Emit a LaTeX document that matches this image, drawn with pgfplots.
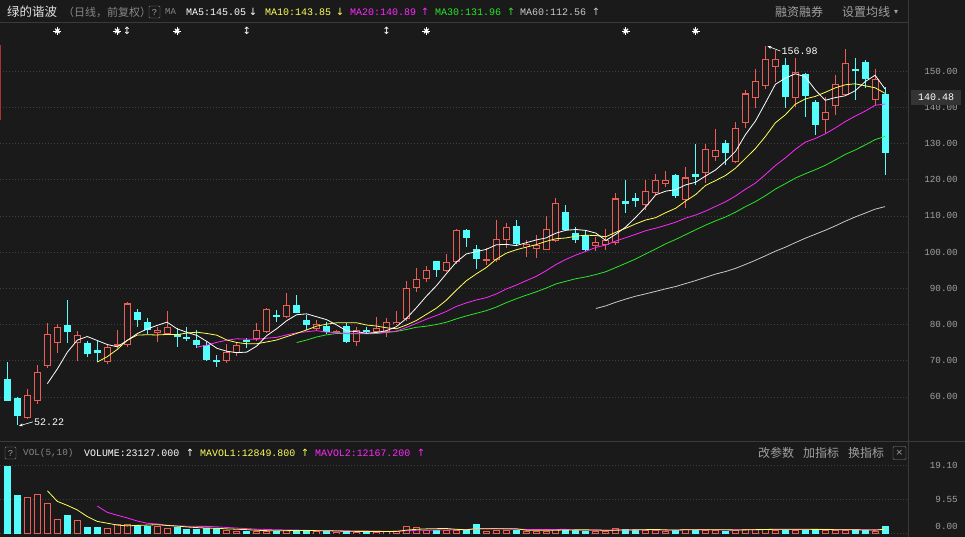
\documentclass[border=0pt]{standalone}
\usepackage{fontspec}
\setmainfont{Liberation Sans}
\newfontfamily\cjk{Noto Sans CJK SC}
\newfontfamily\mono{Liberation Mono}
\newfontfamily\sym{DejaVu Sans}
\usepackage{pgfplots}
\usepackage{pgfplotstable}
\pgfplotsset{compat=1.18}
\usetikzlibrary{arrows.meta}

\definecolor{bg}{RGB}{26,26,26}
\definecolor{upc}{RGB}{238,92,86}
\definecolor{dnc}{RGB}{84,252,252}
\definecolor{ma5c}{RGB}{255,255,255}
\definecolor{ma10c}{RGB}{255,255,90}
\definecolor{ma20c}{RGB}{255,40,255}
\definecolor{ma30c}{RGB}{40,230,40}
\definecolor{ma60c}{RGB}{200,200,200}
\definecolor{gridc}{RGB}{62,62,62}
\definecolor{labc}{RGB}{160,160,160}
\definecolor{sepc}{RGB}{58,58,58}
\definecolor{hdrc}{RGB}{225,225,225}
\definecolor{dimc}{RGB}{135,135,135}
\definecolor{tagc}{RGB}{52,52,52}
\definecolor{edgec}{RGB}{170,50,50}

% up candles: i lo(open) hi(close) low high
\pgfplotstableread{
i lo hi l h
2 54.2 60.4 54.0 62.2
3 58.8 66.8 58.0 68.7
4 68.5 77.5 68.1 80.3
5 74.8 79.2 72.0 80.0
7 74.8 77.1 69.9 78.3
10 69.7 73.7 69.1 74.3
11 74.1 74.6 73.5 78.6
12 74.3 85.8 73.8 86.1
15 77.7 78.6 75.1 79.4
16 77.3 79.2 77.1 83.7
22 69.9 72.5 69.5 74.5
23 72.0 74.3 71.4 75.2
25 75.9 78.6 75.4 80.5
26 78.0 84.2 77.7 84.6
28 82.0 85.4 81.7 88.6
31 78.8 80.2 78.2 81.3
33 77.6 78.1 77.3 78.6
35 75.2 78.6 74.0 79.4
37 78.0 79.1 77.7 82.0
38 78.0 80.6 76.6 81.9
39 80.1 80.7 79.8 83.8
40 81.4 90.0 81.0 92.1
41 90.0 92.7 89.0 95.5
42 92.5 95.0 91.8 96.2
44 94.8 97.3 94.5 99.6
45 97.3 106.1 96.8 106.4
48 97.6 98.1 96.4 101.2
49 97.8 103.6 97.3 108.8
50 103.3 106.8 101.0 107.9
52 101.3 102.2 98.7 103.3
53 100.8 101.9 98.4 104.7
54 100.7 106.4 100.5 110.0
55 103.0 113.5 102.8 114.8
59 101.7 102.7 100.3 104.2
60 101.9 103.3 100.6 106.5
61 102.4 114.8 102.0 116.2
64 113.0 117.0 111.6 119.9
65 116.4 119.9 115.7 121.5
66 118.8 119.9 118.0 122.4
68 114.4 120.6 112.1 123.6
70 121.9 128.6 119.0 129.8
71 126.3 128.2 125.2 133.9
73 124.9 134.2 124.5 136.0
74 135.7 143.8 134.4 144.9
75 142.5 147.3 139.7 150.7
76 145.9 153.2 145.0 156.98
77 151.0 153.2 147.0 155.8
79 142.5 149.8 140.1 153.5
82 136.5 138.8 132.8 142.9
83 140.4 146.4 137.8 148.9
84 143.4 152.3 143.0 156.0
87 142.0 147.7 140.6 150.7
}\uptab

% down candles: i lo(close) hi(open) low high
\pgfplotstableread{
i lo hi l h
0 58.9 65.0 58.9 69.7
1 54.7 59.7 52.22 60.0
6 77.8 79.9 74.8 86.7
8 71.8 75.0 71.1 75.5
9 72.0 72.9 69.7 75.5
13 81.2 83.5 79.4 84.4
14 78.5 80.6 77.5 81.7
17 76.6 77.5 73.8 78.9
18 76.2 76.6 75.4 79.4
19 74.3 75.7 73.4 78.5
20 70.2 74.3 69.9 75.1
21 69.8 70.1 68.2 71.5
24 75.1 75.7 73.4 76.2
27 82.0 82.6 80.6 84.0
29 83.3 85.4 83.1 88.1
30 79.8 81.2 78.5 82.6
32 78.0 79.6 77.5 80.7
34 75.2 79.6 74.9 80.3
36 78.0 78.5 77.5 79.4
43 95.0 97.5 93.0 97.6
46 104.0 106.1 101.5 106.3
47 98.2 100.8 95.2 101.9
51 102.2 107.2 102.0 108.8
56 106.1 111.0 105.8 113.0
57 103.3 105.2 102.4 107.0
58 100.6 104.7 99.9 106.1
62 113.3 114.1 110.7 119.9
63 114.0 115.0 112.5 116.2
67 115.4 121.3 114.8 121.5
69 120.6 121.5 118.5 129.8
72 127.4 130.0 124.0 130.9
78 142.7 151.7 139.7 153.5
80 143.2 149.2 137.4 149.5
81 135.1 141.5 132.3 142.0
85 150.1 150.7 142.0 153.5
86 147.7 152.6 145.2 153.0
88 127.4 143.6 121.3 145.7
}\dntab

\pgfplotstableread{
i v
4 63.66
5 67.72
6 72.34
7 75.68
8 76.68
9 75.58
10 74.48
11 73.84
12 75.58
13 77.46
14 78.76
15 79.74
16 80.66
17 78.82
18 77.82
19 76.98
20 75.30
21 73.42
22 72.60
23 72.22
24 72.38
25 74.06
26 76.94
27 78.84
28 81.06
29 82.70
30 82.94
31 82.14
32 81.34
33 79.88
34 78.26
35 78.02
36 77.58
37 77.80
38 78.30
39 79.40
40 81.68
41 84.62
42 87.80
43 90.68
44 94.00
45 97.22
46 99.48
47 100.12
48 100.74
49 102.00
50 102.14
51 101.78
52 102.58
53 103.34
54 103.90
55 105.24
56 106.02
57 106.24
58 105.98
59 105.24
60 103.20
61 104.94
62 106.94
63 109.62
64 112.48
65 115.80
66 116.82
67 117.24
68 118.56
69 119.28
70 121.02
71 122.68
72 125.08
73 127.80
74 132.44
75 136.18
76 141.18
77 146.34
78 148.04
79 149.24
80 148.42
81 144.80
82 141.92
83 142.66
84 143.16
85 144.54
86 147.06
87 148.84
88 145.04
}\mafive

\pgfplotstableread{
i v
9 69.62
10 71.10
11 73.09
12 75.63
13 77.07
14 77.17
15 77.11
16 77.25
17 77.20
18 77.64
19 77.87
20 77.52
21 77.04
22 75.71
23 75.02
24 74.68
25 74.68
26 75.18
27 75.72
28 76.64
29 77.54
30 78.50
31 79.54
32 80.09
33 80.47
34 80.48
35 80.48
36 79.86
37 79.57
38 79.09
39 78.83
40 79.85
41 81.10
42 82.80
43 84.49
44 86.70
45 89.45
46 92.05
47 93.96
48 95.71
49 98.00
50 99.68
51 100.63
52 101.35
53 102.04
54 102.95
55 103.69
56 103.90
57 104.41
58 104.66
59 104.57
60 104.22
61 105.48
62 106.59
63 107.80
64 108.86
65 109.50
66 110.88
67 112.09
68 114.09
69 115.88
70 118.41
71 119.75
72 121.16
73 123.18
74 125.86
75 128.60
76 131.93
77 135.71
78 137.92
79 140.84
80 142.30
81 142.99
82 144.13
83 145.35
84 146.20
85 146.48
86 145.93
87 145.38
88 143.85
}\maten

\pgfplotstableread{
i v
19 73.75
20 74.31
21 75.07
22 75.67
23 76.05
24 75.93
25 75.90
26 76.22
27 76.46
28 77.14
29 77.71
30 78.01
31 78.29
32 77.90
33 77.75
34 77.58
35 77.58
36 77.52
37 77.65
38 77.87
39 78.19
40 79.18
41 80.32
42 81.45
43 82.48
44 83.59
45 84.97
46 85.96
47 86.77
48 87.40
49 88.42
50 89.77
51 90.87
52 92.08
53 93.27
54 94.83
55 96.57
56 97.98
57 99.19
58 100.19
59 101.29
60 101.95
61 103.06
62 103.97
63 104.92
64 105.91
65 106.60
66 107.39
67 108.25
68 109.38
69 110.23
70 111.32
71 112.62
72 113.88
73 115.49
74 117.36
75 119.05
76 121.41
77 123.90
78 126.01
79 128.36
80 130.36
81 131.37
82 132.65
83 134.27
84 136.03
85 137.54
86 138.93
87 140.55
88 140.89
}\matwenty

\pgfplotstableread{
i v
29 75.01
30 75.71
31 76.56
32 77.14
33 77.52
34 77.44
35 77.42
36 77.43
37 77.50
38 77.79
39 78.08
40 78.62
41 79.23
42 79.53
43 79.99
44 80.62
45 81.54
46 82.36
47 83.08
48 83.81
49 84.79
50 86.01
51 87.09
52 88.08
53 89.00
54 90.04
55 91.21
56 91.94
57 92.65
58 93.15
59 93.80
60 94.58
61 95.74
62 96.91
63 98.11
64 99.50
65 100.88
66 102.28
67 103.49
68 104.82
69 106.15
70 107.44
71 108.62
72 109.70
73 111.01
74 112.56
75 113.93
76 115.57
77 117.40
78 118.89
79 120.43
80 121.64
81 122.74
82 123.96
83 125.44
84 126.97
85 128.19
86 129.58
87 131.06
88 131.96
}\mathirty

\pgfplotstableread{
i v
59 84.41
60 85.15
61 86.15
62 87.03
63 87.82
64 88.47
65 89.15
66 89.85
67 90.49
68 91.31
69 92.12
70 93.03
71 93.92
72 94.62
73 95.50
74 96.59
75 97.73
76 98.97
77 100.24
78 101.35
79 102.61
80 103.83
81 104.92
82 106.02
83 107.22
84 108.51
85 109.70
86 110.76
87 111.85
88 112.56
}\masixty

% volume (10^4), up days
\pgfplotstableread{
i v
2 10.4
3 11.2
4 8.7
5 4.2
7 4.0
10 1.7
11 2.8
12 2.8
15 2.3
16 1.7
22 1.0
23 0.9
25 0.8
26 0.9
28 1.1
31 0.7
33 0.6
35 0.6
37 0.6
38 0.7
39 0.8
40 2.3
41 1.9
42 1.2
44 1.0
45 1.2
48 0.9
49 1.1
50 1.2
52 0.8
53 0.9
54 0.9
55 1.4
59 0.8
60 0.9
61 1.5
64 1.1
65 1.2
66 0.9
68 1.4
70 1.1
71 1.0
73 1.2
74 1.3
75 1.4
76 1.3
77 1.1
79 1.2
82 1.0
83 1.04
84 1.2
87 0.81
}\vup

\pgfplotstableread{
i v
0 19.1
1 11.0
6 5.4
8 1.9
9 1.9
13 2.6
14 2.3
17 1.9
18 1.4
19 1.4
20 1.6
21 1.5
24 0.8
27 0.8
29 1.0
30 0.8
32 0.8
34 0.7
36 0.7
43 1.0
46 1.2
47 2.8
51 1.1
56 1.3
57 1.0
58 0.9
62 1.3
63 1.0
67 1.1
69 1.2
72 0.9
78 1.4
80 1.3
81 1.2
85 1.1
86 1.0
88 2.3127
}\vdn

\pgfplotstableread{
i v
4 12.08
5 9.10
6 7.98
7 6.70
8 4.84
9 3.48
10 2.98
11 2.46
12 2.22
13 2.36
14 2.44
15 2.56
16 2.34
17 2.16
18 1.92
19 1.74
20 1.60
21 1.56
22 1.38
23 1.28
24 1.16
25 1.00
26 0.88
27 0.84
28 0.88
29 0.92
30 0.92
31 0.88
32 0.88
33 0.78
34 0.72
35 0.68
36 0.68
37 0.64
38 0.66
39 0.68
40 1.02
41 1.26
42 1.38
43 1.44
44 1.48
45 1.26
46 1.12
47 1.44
48 1.42
49 1.44
50 1.44
51 1.42
52 1.02
53 1.02
54 0.98
55 1.02
56 1.06
57 1.10
58 1.10
59 1.08
60 0.98
61 1.02
62 1.08
63 1.10
64 1.16
65 1.22
66 1.10
67 1.06
68 1.14
69 1.16
70 1.14
71 1.16
72 1.12
73 1.08
74 1.10
75 1.16
76 1.22
77 1.26
78 1.30
79 1.28
80 1.26
81 1.24
82 1.22
83 1.15
84 1.15
85 1.11
86 1.07
87 1.03
88 1.28
}\mavone

\pgfplotstableread{
i v
9 7.78
10 6.04
11 5.22
12 4.46
13 3.60
14 2.96
15 2.77
16 2.40
17 2.19
18 2.14
19 2.09
20 2.08
21 1.95
22 1.77
23 1.60
24 1.45
25 1.30
26 1.22
27 1.11
28 1.08
29 1.04
30 0.96
31 0.88
32 0.86
33 0.83
34 0.82
35 0.80
36 0.78
37 0.76
38 0.72
39 0.70
40 0.85
41 0.97
42 1.01
43 1.05
44 1.08
45 1.14
46 1.19
47 1.41
48 1.43
49 1.46
50 1.35
51 1.27
52 1.23
53 1.22
54 1.21
55 1.23
56 1.24
57 1.06
58 1.06
59 1.03
60 1.00
61 1.04
62 1.09
63 1.10
64 1.12
65 1.10
66 1.06
67 1.07
68 1.12
69 1.16
70 1.18
71 1.13
72 1.09
73 1.11
74 1.13
75 1.15
76 1.19
77 1.19
78 1.19
79 1.19
80 1.21
81 1.23
82 1.24
83 1.22
84 1.21
85 1.18
86 1.15
87 1.13
88 1.22
}\mavtwo

\pgfplotsset{
  kbase/.style={
    anchor=south west, width=908pt, scale only axis,
    xmin=-0.75, xmax=90.3,
    axis line style={draw=none}, xtick=\empty, major tick length=0pt,
    ymajorgrids, grid style={gridc, dash pattern=on 1pt off 2pt, line width=0.6pt},
    yticklabel pos=right,
    yticklabel style={font=\mono\fontsize{9.3}{10}\selectfont, text=labc, anchor=east, inner sep=0pt, xshift=50pt},
    /pgf/number format/fixed, /pgf/number format/fixed zerofill,
    /pgf/number format/precision=2, /pgf/number format/assume math mode=true,
    clip=false},
  ebar/.style 2 args={draw=none, mark=none, forget plot,
    error bars/.cd, y dir=both, y explicit, error mark=none,
    error bar style={draw=#1, line width=#2, solid}},
}

\begin{document}
\begin{tikzpicture}
\useasboundingbox (0pt,0pt) rectangle (965pt,537pt);
\fill[bg] (0pt,0pt) rectangle (965pt,537pt);

% ===== price panel =====
\begin{axis}[kbase, at={(0pt,97pt)}, height=420pt,
  ymin=48.1, ymax=164.1, ytick={60,70,...,150}]
  % up candles
  \addplot[ebar={upc}{1pt}] table[x=i, y expr=(\thisrow{l}+\thisrow{h})/2, y error expr=(\thisrow{h}-\thisrow{l})/2] {\uptab};
  \addplot[ebar={upc}{7pt}] table[x=i, y expr=(\thisrow{lo}+\thisrow{hi})/2, y error expr={max((\thisrow{hi}-\thisrow{lo})/2,0.14)}] {\uptab};
  \addplot[ebar={bg}{5pt}] table[x=i, y expr=(\thisrow{lo}+\thisrow{hi})/2, y error expr={max((\thisrow{hi}-\thisrow{lo})/2-0.28,0)}] {\uptab};
  % down candles
  \addplot[ebar={dnc}{1pt}] table[x=i, y expr=(\thisrow{l}+\thisrow{h})/2, y error expr=(\thisrow{h}-\thisrow{l})/2] {\dntab};
  \addplot[ebar={dnc}{7pt}] table[x=i, y expr=(\thisrow{lo}+\thisrow{hi})/2, y error expr={max((\thisrow{hi}-\thisrow{lo})/2,0.14)}] {\dntab};
  % moving averages
  \addplot[ma60c, line width=0.8pt, mark=none] table[x=i,y=v] {\masixty};
  \addplot[ma30c, line width=0.8pt, mark=none] table[x=i,y=v] {\mathirty};
  \addplot[ma20c, line width=0.8pt, mark=none] table[x=i,y=v] {\matwenty};
  \addplot[ma10c, line width=0.8pt, mark=none] table[x=i,y=v] {\maten};
  \addplot[ma5c, line width=0.8pt, mark=none] table[x=i,y=v] {\mafive};
  % event markers
  \addplot[only marks, white, mark=+, mark size=4pt, mark options={line width=1pt}] coordinates {(5,161.05) (11,161.05) (17,161.05) (42,161.05) (62,161.05) (69,161.05)};
  \addplot[only marks, white, mark=x, mark size=3.2pt, mark options={line width=1pt}] coordinates {(5,161.05) (11,161.05) (17,161.05) (42,161.05) (62,161.05) (69,161.05)};
  \addplot[only marks, white, mark=*, mark size=1.6pt] coordinates {(5,161.05) (11,161.05) (17,161.05) (42,161.05) (62,161.05) (69,161.05)};
  \node[white, font=\sym\fontsize{10}{10}\selectfont, inner sep=0pt] at (axis cs:12,161.05) {↕};
  \node[white, font=\sym\fontsize{10}{10}\selectfont, inner sep=0pt] at (axis cs:24,161.05) {↕};
  \node[white, font=\sym\fontsize{10}{10}\selectfont, inner sep=0pt] at (axis cs:38,161.05) {↕};
  % extremes
  \draw[white, line width=0.6pt, {Stealth[length=4pt,width=3pt]}-] (axis cs:1.15,52.0) -- ++(14pt,4pt) node[right, inner sep=1pt, font=\mono\fontsize{10}{10}\selectfont] {52.22};
  \draw[white, line width=0.6pt, {Stealth[length=4pt,width=3pt]}-] (axis cs:76.2,156.9) -- ++(13pt,-5pt) node[right, inner sep=1pt, font=\mono\fontsize{10}{10}\selectfont] {156.98};
  \coordinate (cur) at (axis cs:90.3,142.8);
\end{axis}

% ===== volume panel =====
\begin{axis}[kbase, at={(0pt,0pt)}, height=74pt,
  ymin=-0.9, ymax=19.88, ytick={9.55,19.1},
  extra y ticks={0}, extra y tick style={yticklabel style={yshift=7pt}}]
  \addplot[ebar={upc}{7pt}] table[x=i, y expr=\thisrow{v}/2, y error expr=\thisrow{v}/2] {\vup};
  \addplot[ebar={bg}{5pt}] table[x=i, y expr=\thisrow{v}/2, y error expr={max(\thisrow{v}/2-0.28,0)}] {\vup};
  \addplot[ebar={dnc}{7pt}] table[x=i, y expr=\thisrow{v}/2, y error expr=\thisrow{v}/2] {\vdn};
  \addplot[ma20c, line width=0.8pt, mark=none] table[x=i,y=v] {\mavtwo};
  \addplot[ma10c, line width=0.8pt, mark=none] table[x=i,y=v] {\mavone};
\end{axis}

% current price tag
\node[fill=tagc, text=white, font=\mono\fontsize{10}{10}\selectfont, anchor=west, minimum width=50pt, minimum height=15pt, inner sep=1pt, xshift=3pt] at (cur) {140.48};

% separators
\draw[sepc, line width=0.8pt] (908pt,0pt) -- (908pt,537pt);
\draw[sepc, line width=0.8pt] (0pt,515pt) -- (908pt,515pt);
\draw[sepc, line width=0.8pt] (0pt,96pt) -- (965pt,96pt);
\draw[edgec, line width=1pt] (0.5pt,492pt) -- (0.5pt,417pt);

% ===== top header =====
\node[anchor=west, inner sep=0pt, text=hdrc, font=\cjk\fontsize{12.5}{13}\selectfont] at (7pt,525pt) {绿的谐波};
\node[anchor=west, inner sep=0pt, text=dimc, font=\cjk\fontsize{11}{12}\selectfont] at (63pt,525pt) {（日线，前复权）};
\node[draw=dimc, rounded corners=1pt, minimum width=11pt, minimum height=12pt, inner sep=0pt, text=labc, font=\mono\fontsize{9}{9}\selectfont] at (154.5pt,525pt) {?};
\node[anchor=west, inner sep=0pt, text=dimc, font=\mono\fontsize{9}{9}\selectfont] at (165pt,525pt) {MA};
\node[anchor=west, inner sep=0pt, text=white, font=\mono\fontsize{10}{10}\selectfont] at (186pt,525pt) {MA5:145.05};
\node[anchor=center, inner sep=0pt, text=white, font=\sym\fontsize{10}{10}\selectfont] at (253pt,525pt) {↓};
\node[anchor=west, inner sep=0pt, text=ma10c, font=\mono\fontsize{10}{10}\selectfont] at (265pt,525pt) {MA10:143.85};
\node[anchor=center, inner sep=0pt, text=ma10c, font=\sym\fontsize{10}{10}\selectfont] at (340pt,525pt) {↓};
\node[anchor=west, inner sep=0pt, text=ma20c, font=\mono\fontsize{10}{10}\selectfont] at (350pt,525pt) {MA20:140.89};
\node[anchor=center, inner sep=0pt, text=ma20c, font=\sym\fontsize{10}{10}\selectfont] at (425pt,525pt) {↑};
\node[anchor=west, inner sep=0pt, text=ma30c, font=\mono\fontsize{10}{10}\selectfont] at (435pt,525pt) {MA30:131.96};
\node[anchor=center, inner sep=0pt, text=ma30c, font=\sym\fontsize{10}{10}\selectfont] at (511pt,525pt) {↑};
\node[anchor=west, inner sep=0pt, text=ma60c, font=\mono\fontsize{10}{10}\selectfont] at (520pt,525pt) {MA60:112.56};
\node[anchor=center, inner sep=0pt, text=ma60c, font=\sym\fontsize{10}{10}\selectfont] at (596pt,525pt) {↑};
\node[anchor=west, inner sep=0pt, text=labc, font=\cjk\fontsize{12}{12}\selectfont] at (775pt,525pt) {融资融券};
\node[anchor=west, inner sep=0pt, text=labc, font=\cjk\fontsize{12}{12}\selectfont] at (842pt,525pt) {设置均线};
\node[anchor=center, inner sep=0pt, text=labc, font=\sym\fontsize{8}{8}\selectfont] at (896pt,525pt) {▾};

% ===== volume header =====
\node[draw=dimc, rounded corners=1pt, minimum width=11pt, minimum height=12pt, inner sep=0pt, text=labc, font=\mono\fontsize{9}{9}\selectfont] at (10.5pt,84pt) {?};
\node[anchor=west, inner sep=0pt, text=dimc, font=\mono\fontsize{9.3}{9}\selectfont] at (23pt,84pt) {VOL(5,10)};
\node[anchor=west, inner sep=0pt, text=white, font=\mono\fontsize{9.9}{10}\selectfont] at (84pt,84pt) {VOLUME:23127.000};
\node[anchor=center, inner sep=0pt, text=white, font=\sym\fontsize{10}{10}\selectfont] at (190pt,84pt) {↑};
\node[anchor=west, inner sep=0pt, text=ma10c, font=\mono\fontsize{9.9}{10}\selectfont] at (200pt,84pt) {MAVOL1:12849.800};
\node[anchor=center, inner sep=0pt, text=ma10c, font=\sym\fontsize{10}{10}\selectfont] at (305pt,84pt) {↑};
\node[anchor=west, inner sep=0pt, text=ma20c, font=\mono\fontsize{9.9}{10}\selectfont] at (315pt,84pt) {MAVOL2:12167.200};
\node[anchor=center, inner sep=0pt, text=ma20c, font=\sym\fontsize{10}{10}\selectfont] at (421pt,84pt) {↑};
\node[anchor=west, inner sep=0pt, text=labc, font=\cjk\fontsize{12}{12}\selectfont] at (758pt,84pt) {改参数};
\node[anchor=west, inner sep=0pt, text=labc, font=\cjk\fontsize{12}{12}\selectfont] at (803pt,84pt) {加指标};
\node[anchor=west, inner sep=0pt, text=labc, font=\cjk\fontsize{12}{12}\selectfont] at (848pt,84pt) {换指标};
\node[draw=dimc, rounded corners=1pt, minimum width=13pt, minimum height=13pt, inner sep=0pt, text=labc, font=\sym\fontsize{9}{9}\selectfont] at (899.5pt,84pt) {×};
\end{tikzpicture}
\end{document}
